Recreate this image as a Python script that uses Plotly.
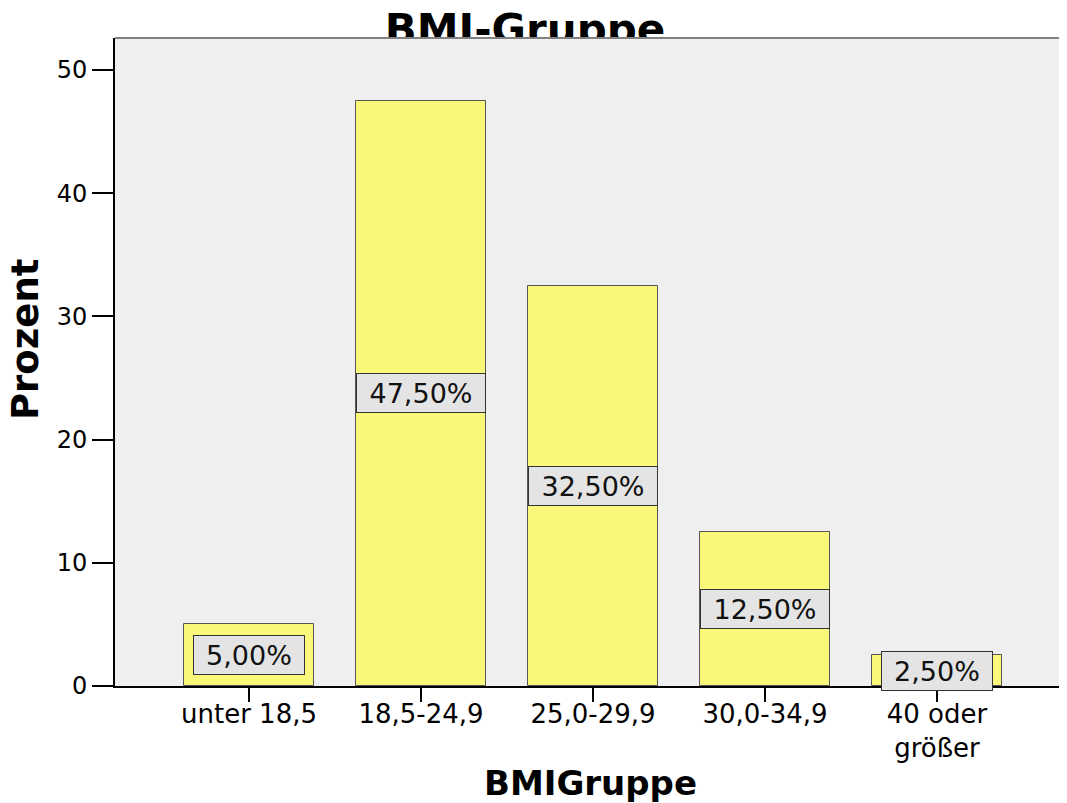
import plotly.graph_objects as go

# ---- data ----
categories = ["unter 18,5", "18,5-24,9", "25,0-29,9", "30,0-34,9", "40 oder<br>größer"]
percent = [5.0, 47.5, 32.5, 12.5, 2.5]
bar_labels = ["5,00%", "47,50%", "32,50%", "12,50%", "2,50%"]
y_ticks = [0, 10, 20, 30, 40, 50]
chart_title = "BMI-Gruppe"
x_title = "BMIGruppe"
y_title = "Prozent"

# page body has an 8px margin -> work in figure pixels (reference minus 8)
OFF = 8
W, H = 1067 - 2 * OFF, 803 - OFF
ML = 115 - OFF
plot_bottom = 686 - OFF
MB = H - plot_bottom
plot_top = 38 - OFF
plot_h = plot_bottom            # margin top = 0
main_top = (plot_h - plot_top) / plot_h
cat_px = 172.0                  # pixel spacing of categories
x_left = -0.779
x_right = x_left + (W - ML) / cat_px

FONT = "DejaVu Sans"
BAR_COLOR = "#FAF87A"
BG = "#EFEFEF"

fig = go.Figure()

fig.add_trace(go.Bar(
    x=list(range(len(categories))), y=percent,
    width=0.755,
    marker=dict(color=BAR_COLOR, line=dict(color="#555555", width=1)),
    hoverinfo="skip", showlegend=False,
    xaxis="x", yaxis="y",
))

# Title drawn as clipped text in a strip subplot above the plot area
fig.add_trace(go.Scatter(
    x=[525 - OFF], y=[5], mode="text", text=[chart_title],
    textfont=dict(family=FONT, size=42, color="black", weight="bold"),
    textposition="middle center", cliponaxis=True,
    hoverinfo="skip", showlegend=False,
    xaxis="x2", yaxis="y2",
))

annotations = []
for i, (v, lab) in enumerate(zip(percent, bar_labels)):
    annotations.append(dict(
        x=i, y=v / 2, xref="x", yref="y", text=lab, showarrow=False,
        font=dict(family=FONT, size=27, color="#111111"),
        bgcolor="#E4E4E4", bordercolor="#333333", borderwidth=1, borderpad=3,
        width=18 * len(lab) + 14, height=32, align="center",
        xanchor="center", yanchor="middle",
    ))

annotations.append(dict(
    x=(590 - OFF - ML) / (W - ML), y=(plot_h - (783 - OFF)) / plot_h,
    xref="paper", yref="paper",
    text=x_title, showarrow=False, xanchor="center", yanchor="middle",
    font=dict(family=FONT, size=34, color="black", weight="bold"),
))
annotations.append(dict(
    x=(25 - OFF - ML) / (W - ML), y=(plot_h - (340 - OFF)) / plot_h,
    xref="paper", yref="paper",
    text=y_title, showarrow=False, xanchor="center", yanchor="middle", textangle=-90,
    height=32,
    font=dict(family=FONT, size=37, color="black", weight="bold"),
))

shapes = [
    dict(type="rect", xref="x domain", yref="y domain", x0=0, x1=1, y0=0, y1=1,
         fillcolor=BG, line=dict(width=0), layer="below"),
    dict(type="line", xref="x domain", yref="y domain", x0=0, x1=1, y0=1, y1=1,
         line=dict(color="#808080", width=2), layer="above"),
]

fig.update_layout(
    width=W, height=H,
    margin=dict(l=ML, r=0, t=0, b=MB, pad=0),
    paper_bgcolor="white", plot_bgcolor="white",
    font=dict(family=FONT, color="black"),
    bargap=0,
    xaxis=dict(
        domain=[0, 1], anchor="y",
        range=[x_left, x_right],
        tickmode="array", tickvals=list(range(len(categories))), ticktext=categories,
        ticks="outside", ticklen=14, tickwidth=2, tickcolor="black",
        ticklabelstandoff=-10,
        showline=True, linecolor="black", linewidth=2,
        showgrid=False, zeroline=False,
        tickfont=dict(family=FONT, size=26, color="black"),
        fixedrange=True,
    ),
    yaxis=dict(
        domain=[0, main_top], anchor="x",
        range=[0, 52.6],
        tickmode="array", tickvals=y_ticks,
        ticks="outside", ticklen=21, tickwidth=2, tickcolor="black",
        showline=True, linecolor="black", linewidth=2,
        showgrid=False, zeroline=False,
        tickfont=dict(family=FONT, size=24, color="black"),
        fixedrange=True,
    ),
    xaxis2=dict(domain=[0, 1], anchor="y2", range=[ML, W], visible=False, fixedrange=True),
    yaxis2=dict(domain=[main_top, 1], anchor="x2", range=[0, plot_top], visible=False, fixedrange=True),
    annotations=annotations,
    shapes=shapes,
)

fig.write_html("out.html")
